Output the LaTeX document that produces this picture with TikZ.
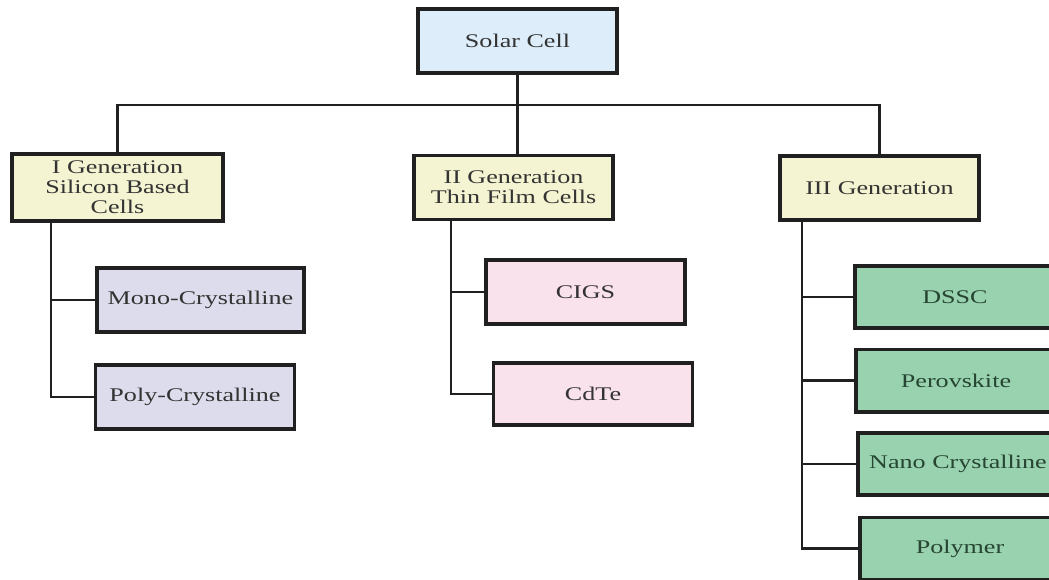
\documentclass[tikz,border=0pt]{standalone}
\usepackage{fontspec}
\setmainfont{Liberation Serif}[FakeStretch=1.35]

\definecolor{boxline}{HTML}{202020}
\definecolor{txt}{HTML}{333333}
\definecolor{topfill}{HTML}{DDEEFA}
\definecolor{genfill}{HTML}{F4F4D2}
\definecolor{sifill}{HTML}{DCDCEC}
\definecolor{tffill}{HTML}{FAE2EC}
\definecolor{thirdfill}{HTML}{98D2AF}
\definecolor{thirdtxt}{HTML}{264532}

\tikzset{
	box/.style={draw=boxline, line width=2pt, minimum width=3.98cm, minimum height=1.28cm,
		inner sep=2pt, align=center, text=txt, font=\fontsize{11}{11.4}\selectfont},
	topbox/.style={box, fill=topfill},
	genbox/.style={box, fill=genfill},
	sibox/.style={box, fill=sifill},
	tfbox/.style={box, fill=tffill},
	thirdbox/.style={box, fill=thirdfill, text=thirdtxt, minimum width=4cm, minimum height=1.25cm},
	link/.style={draw=boxline, line width=1.6pt, line join=miter}
}

\begin{document}
\begin{tikzpicture}[x=0.02cm, y=-0.02cm]
		\clip (0, 0) rectangle (1049, 579);
		\fill[white] (0, 0) rectangle (1049, 579);

		\node[topbox] (solar) at (517.5, 41) {Solar Cell};

		\node[genbox, minimum width=4.22cm, minimum height=1.34cm] (gen1) at (117.5, 187.5) {I Generation\\Silicon Based\\Cells};
		\node[genbox] (gen2) at (513.5, 187.5) {II Generation\\Thin Film Cells};
		\node[genbox] (gen3) at (879.5, 188) {III Generation};

		\node[sibox, minimum width=4.14cm] (mono) at (200.5, 300) {Mono-Crystalline};
		\node[sibox] (poly) at (195, 397) {Poly-Crystalline};

		\node[tfbox] (cigs) at (585.5, 292) {CIGS};
		\node[tfbox, minimum height=1.24cm] (cdte) at (593, 394) {CdTe};

		\node[thirdbox] (dssc) at (955, 297) {DSSC};
		\node[thirdbox] (perov) at (956, 380.5) {Perovskite};
		\node[thirdbox] (nano) at (958, 464) {Nano Crystalline};
		\node[thirdbox] (polymer) at (960, 548.5) {Polymer};

		\coordinate (bus) at (0, 105);
		\coordinate (s1) at (51, 221);
		\coordinate (s2) at (451, 220);
		\coordinate (s3) at (802, 220);

		\draw[link] (solar.south) -- (solar.south |- gen2.north);
		\draw[link] (gen1.north) -- (gen1.north |- bus) -| (gen3.north);

		\draw[link] (s1) |- (poly.west);
		\draw[link] (s1 |- mono.west) -- (mono.west);

		\draw[link] (s2) |- (cdte.west);
		\draw[link] (s2 |- cigs.west) -- (cigs.west);

		\draw[link] (s3) |- (polymer.west);
		\draw[link] (s3 |- dssc.west) -- (dssc.west);
		\draw[link] (s3 |- perov.west) -- (perov.west);
		\draw[link] (s3 |- nano.west) -- (nano.west);
	\end{tikzpicture}
\end{document}
